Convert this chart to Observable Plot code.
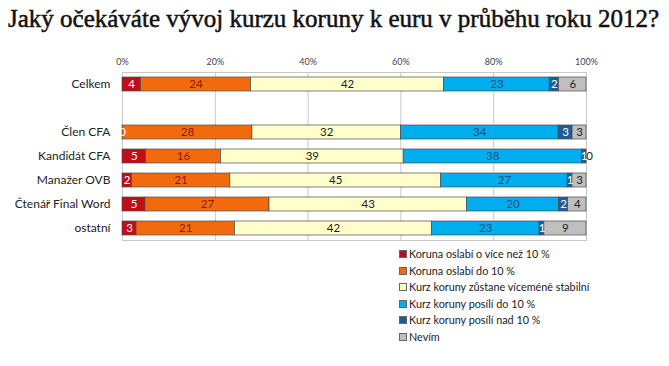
<!DOCTYPE html>
<html>
<head>
<meta charset="utf-8">
<script src="https://cdn.jsdelivr.net/npm/d3@7"></script>
<script src="https://cdn.jsdelivr.net/npm/@observablehq/plot@0.6"></script>
<style>
  body { margin:0; width:669px; height:366px; overflow:hidden; background:#fff; position:relative; }
  #title { position:absolute; left:8px; top:5px; font-family:"Liberation Serif", serif; font-size:25px; color:#111; white-space:nowrap; -webkit-text-stroke:0.5px #111; }
  #chart { position:absolute; left:0; top:45px; }
  #legend { position:absolute; left:399px; top:246px; font-family:Lato, sans-serif; font-size:10.8px; color:#222; }
  .li { height:16.5px; line-height:16.5px; display:flex; align-items:center; }
  .sw { width:6px; height:6px; border:1px solid #666; margin-right:2px; }
</style>
</head>
<body>
<div id="title">Jaký očekáváte vývoj kurzu koruny k euru v průběhu roku 2012?</div>
<div id="chart"></div>
<div id="legend"></div>
<script>
const GAP = " ";
const groups = ["Celkem", GAP, "Člen CFA", "Kandidát CFA", "Manažer OVB", "Čtenář Final Word", "ostatní"];
const dataGroups = ["Celkem", "Člen CFA", "Kandidát CFA", "Manažer OVB", "Čtenář Final Word", "ostatní"];
const series = [
  "Koruna oslabí o více než 10 %",
  "Koruna oslabí do 10 %",
  "Kurz koruny zůstane víceméně stabilní",
  "Kurz koruny posílí do 10 %",
  "Kurz koruny posílí nad 10 %",
  "Nevím"
];
const weakenMore   = [4, 0, 5, 2, 5, 3];
const weakenLess   = [24, 28, 16, 21, 27, 21];
const stable       = [42, 32, 39, 45, 43, 42];
const strengthenLess = [23, 34, 38, 27, 20, 23];
const strengthenMore = [2, 3, 1, 1, 2, 1];
const dontKnow     = [6, 3, 0, 3, 4, 9];
const seriesValues = [weakenMore, weakenLess, stable, strengthenLess, strengthenMore, dontKnow];
const colors = ["#C00D18", "#F36A0E", "#FFFFCC", "#00AEEF", "#1B5E97", "#BFBFBF"];
const labelColors = ["#ffffff", "#8A1B12", "#222222", "#1F4E79", "#ffffff", "#222222"];
const xTicks = [0, 0.2, 0.4, 0.6, 0.8, 1];
const xTickLabels = ["0%", "20%", "40%", "60%", "80%", "100%"];

const rows = [];
series.forEach((s, si) => {
  dataGroups.forEach((g, gi) => {
    rows.push({group: g, series: s, value: seriesValues[si][gi], labelColor: labelColors[si]});
  });
});
const isEdgeZero = d => d.value === 0 && d.series === series[series.length - 1];

const chart = Plot.plot({
  width: 669,
  height: 205,
  marginTop: 27,
  marginBottom: 10,
  marginLeft: 122,
  marginRight: 83,
  style: {fontFamily: "Lato, sans-serif", background: "#fff"},
  x: {domain: [0, 1], ticks: xTicks, tickFormat: (d) => xTickLabels[xTicks.indexOf(d)], label: null},
  y: {domain: groups, paddingInner: 0.42, paddingOuter: 0.21, label: null},
  color: {domain: series, range: colors},
  marks: [
    Plot.gridX(xTicks, {stroke: "#C8C8C8", strokeOpacity: 1, strokeWidth: 1}),
    Plot.frame({stroke: "#C8C8C8"}),
    Plot.axisX({anchor: "top", ticks: xTicks, tickFormat: (d) => xTickLabels[xTicks.indexOf(d)], tickSize: 0, tickPadding: 8, fontSize: 9, fill: "#444", label: null}),
    Plot.axisY({tickSize: 0, tickPadding: 12, fontSize: 12, fill: "#222", tickFormat: d => d === GAP ? "" : d, label: null}),
    Plot.barX(rows, Plot.stackX({x: "value", y: "group", fill: "series", offset: "normalize", order: null, stroke: "#4a4a4a", strokeWidth: 0.7})),
    Plot.text(rows, Plot.stackX({x: "value", y: "group", z: "series", offset: "normalize", order: null, text: d => isEdgeZero(d) ? null : String(d.value), fill: "labelColor", fontSize: 11.5})),
    Plot.text(rows, Plot.stackX({x: "value", y: "group", z: "series", offset: "normalize", order: null, text: d => isEdgeZero(d) ? String(d.value) : null, fill: "labelColor", fontSize: 11.5, dx: 3}))
  ]
});
document.getElementById("chart").appendChild(chart);

const legend = document.getElementById("legend");
series.forEach((s, i) => {
  const li = document.createElement("div");
  li.className = "li";
  const sw = document.createElement("span");
  sw.className = "sw";
  sw.style.background = colors[i];
  li.appendChild(sw);
  const t = document.createElement("span");
  t.textContent = s;
  li.appendChild(t);
  legend.appendChild(li);
});
</script>
</body>
</html>
